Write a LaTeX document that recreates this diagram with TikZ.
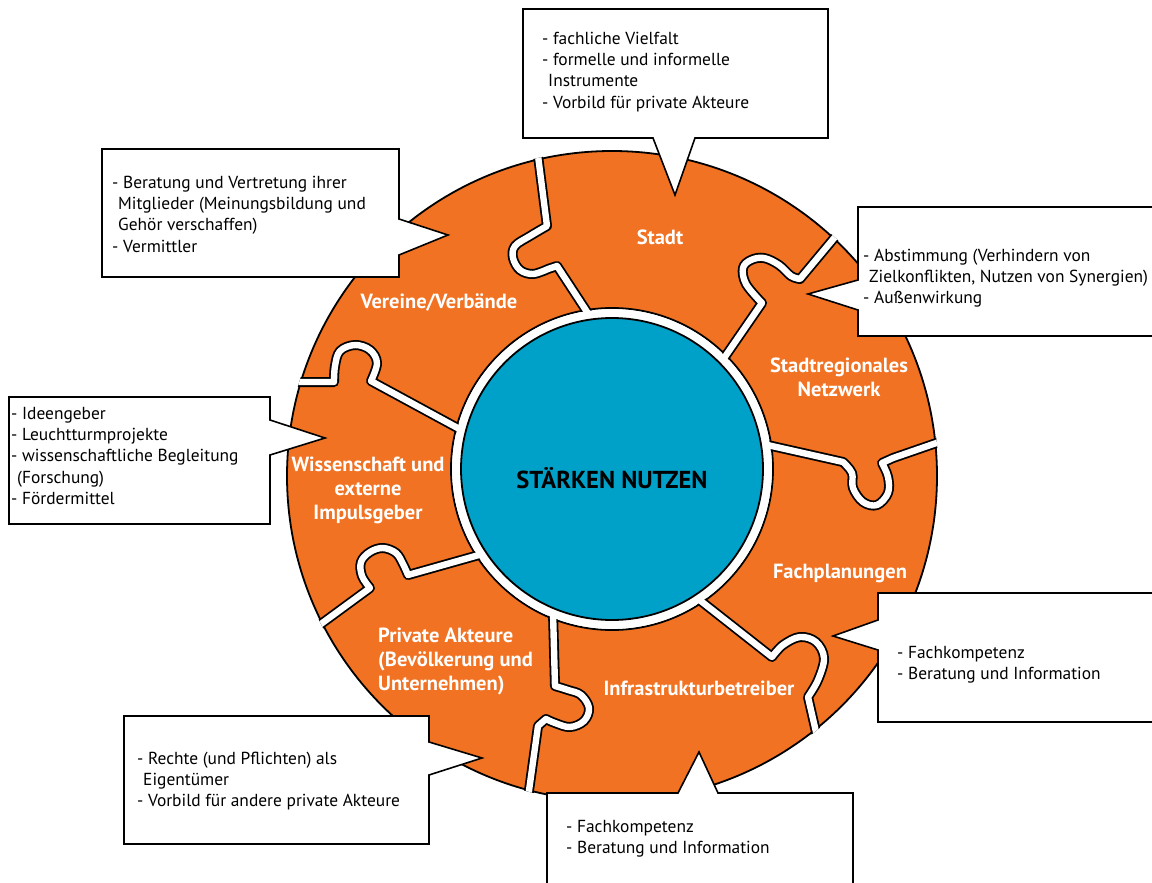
\documentclass[tikz,border=0pt]{standalone}
\usepackage{fontspec}
\setmainfont{PT Sans}
\definecolor{puzorange}{RGB}{241,114,34}
\definecolor{puzblue}{RGB}{0,161,200}
\newcommand\firstln{\rule{0pt}{14pt}}
\newcommand\contind{\hspace*{6pt}}
\begin{document}
\begin{tikzpicture}[x=1pt,y=-1pt,
  boxtext/.style={anchor=north west, inner sep=0pt, align=left, font=\fontsize{17.4}{21.3}\selectfont, text=black},
  lbl/.style={inner sep=0pt, align=center, font=\bfseries\fontsize{20.5}{24}\selectfont, text=white},
  callout/.style={fill=white, draw=black, line width=1.6pt, line join=miter},
  gap/.style={draw=white, line width=6.4pt, line join=round, line cap=butt,
    preaction={draw=black, line width=10pt, line join=round, line cap=butt}}]

\useasboundingbox (0,0) rectangle (1152,883);
\clip (0,0) rectangle (1152,883);

% ring
\fill[puzorange, draw=black, line width=1.8pt] (612,476) circle (325pt);
\fill[white, draw=black, line width=1.8pt] (612,469) circle (161pt);

\begin{scope}
\clip (612,476) circle (326.5pt);
% Stadt | Vereine
\draw[gap] (536,140) -- (547,226) -- plot[smooth,tension=0.6] coordinates {(547,226) (530,236) (515,246) (513,258) (520,270) (533,274) (548,269)} -- (557,266) -- (593,321);
% Vereine | Wissenschaft
\draw[gap] (280,382) -- (334,382) -- plot[smooth,tension=0.6] coordinates {(334,382) (335,366) (340,351) (355,345) (370,350) (377,363) (371,381)} -- (465,432);
% Wissenschaft | Private
\draw[gap] (310,632) -- (370,588) -- plot[smooth,tension=0.6] coordinates {(370,588) (362,576) (361,562) (370,552) (383,548) (396,553) (403,564) (408,575)} -- (486,553);
% Private | Infrastruktur
\draw[gap] (553,612) -- (555,686) -- plot[smooth,tension=0.6] coordinates {(555,686) (568,690) (581,695) (589,708) (584,721) (570,727) (555,723) (546,719)} -- (538,726) -- (527,805);
% Infrastruktur | Fachplanungen
\draw[gap] (697,598) -- (772,657) -- plot[smooth,tension=0.6] coordinates {(772,657) (783,645) (800,637) (816,642) (824,658) (818,680) (808,697)} -- (819,745);
% Fachplanungen | Stadtregionales
\draw[gap] (763,444) -- (843,462) -- plot[smooth,tension=0.6] coordinates {(843,462) (852,473) (853,488) (863,502) (877,505) (888,493) (888,477) (882,463)} -- (893,458) -- (945,440);
% Stadtregionales | Stadt
\draw[gap] (720,364) -- (762,303) -- plot[smooth,tension=0.6] coordinates {(762,303) (746,284) (743,268) (751,260) (764,258) (779,265) (791,276) (800,279)} -- (840,231);
\end{scope}

\fill[white] (612,469) circle (159.8pt);
\node[circle, minimum size=302pt, inner sep=0pt, fill=puzblue, draw=black, line width=1.8pt] (core) at (612,469) {};
\node[font=\bfseries\fontsize{24.5}{28}\selectfont, text=black, inner sep=0pt] (coretext) at (612,478) {STÄRKEN NUTZEN};

% piece labels
\node[lbl] (lstadt) at (660,237) {Stadt};
\node[lbl] (lnetz) at (839,377.5) {Stadtregionales\\Netzwerk};
\node[lbl] (lfach) at (840,573) {Fachplanungen};
\node[lbl] (linfra) at (699,688) {Infrastrukturbetreiber};
\node[lbl, anchor=west, align=left] (lpriv) at (378,661.5) {Private Akteure\\(Bevölkerung und\\Unternehmen)};
\node[lbl] (lwiss) at (368,490) {Wissenschaft und\\externe\\Impulsgeber};
\node[lbl] (lverein) at (439,303) {Vereine/Verbände};

% callouts
\draw[callout] (523,9) -- (828,9) -- (828,138) -- (695,138) -- (675,195) -- (653,138) -- (523,138) -- cycle;
\draw[callout] (102,149) -- (399,149) -- (399,219) -- (448,235) -- (399,255) -- (399,277) -- (102,277) -- cycle;
\draw[callout] (858,207) -- (1160,207) -- (1160,336) -- (858,336) -- (858,310) -- (808,294) -- (858,280) -- cycle;
\draw[callout] (878,593) -- (1160,593) -- (1160,722) -- (878,722) -- (878,650) -- (833,636) -- (878,620) -- cycle;
\draw[callout] (9,397) -- (270,397) -- (270,420) -- (325,438) -- (270,455) -- (270,524) -- (9,524) -- cycle;
\draw[callout] (124,716) -- (429,716) -- (429,742) -- (482,758) -- (429,775) -- (429,844) -- (124,844) -- cycle;
\draw[callout] (547,793) -- (678,793) -- (699,752) -- (718,793) -- (853,793) -- (853,890) -- (547,890) -- cycle;

% callout texts
\node[boxtext] (tstadt) at (542,30) {\firstln- fachliche Vielfalt\\- formelle und informelle\\\contind Instrumente\\- Vorbild für private Akteure};
\node[boxtext] (tverein) at (112,174) {\firstln- Beratung und Vertretung ihrer\\\contind Mitglieder (Meinungsbildung und\\\contind Gehör verschaffen)\\- Vermittler};
\node[boxtext] (tnetz) at (863,247) {\firstln- Abstimmung (Verhindern von\\\contind Zielkonflikten, Nutzen von Synergien)\\- Außenwirkung};
\node[boxtext] (tfach) at (897,644) {\firstln- Fachkompetenz\\- Beratung und Information};
\node[boxtext] (twiss) at (11,405) {\firstln- Ideengeber\\- Leuchtturmprojekte\\- wissenschaftliche Begleitung\\\contind(Forschung)\\- Fördermittel};
\node[boxtext] (tpriv) at (137,750) {\firstln- Rechte (und Pflichten) als\\\contind Eigentümer\\- Vorbild für andere private Akteure};
\node[boxtext] (tinfra) at (566,818) {\firstln- Fachkompetenz\\- Beratung und Information};
\end{tikzpicture}
\end{document}
